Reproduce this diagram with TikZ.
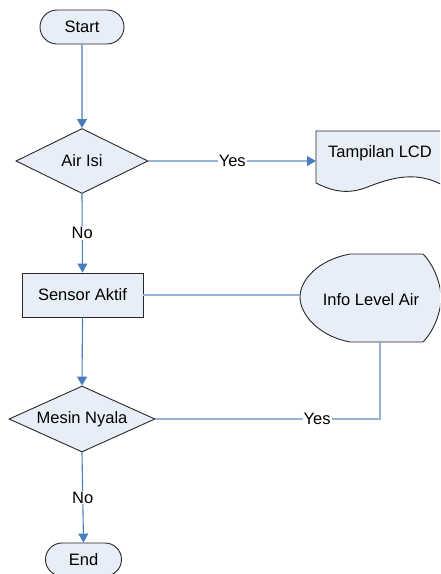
\documentclass[tikz,border=0pt]{standalone}
\usepackage{fontspec}
\setmainfont{Liberation Sans}
\usetikzlibrary{shapes.geometric,shapes.misc,arrows.meta}
\definecolor{shapefill}{RGB}{232,238,247}
\definecolor{linkblue}{RGB}{74,126,187}
\definecolor{lightlink}{RGB}{149,179,215}
\definecolor{edgegray}{RGB}{40,40,40}
\tikzset{
  every node/.style={font=\fontsize{16.5}{19}\selectfont},
  boxbase/.style={draw=edgegray, fill=shapefill, line width=0.9pt, inner sep=0pt},
  termbox/.style={boxbase, rounded rectangle},
  procbox/.style={boxbase, rectangle},
  decbox/.style={boxbase, diamond, shape aspect=2.2},
  flow/.style={draw=linkblue, line width=1.1pt, -{Triangle[length=9pt,width=10pt]}},
  flowplain/.style={draw=lightlink, line width=1.1pt},
  flowarrow/.style={draw=lightlink, line width=1.1pt, -{Triangle[length=9pt,width=10pt,color=linkblue]}},
  lbl/.style={fill=white, inner sep=1pt}
}
\begin{document}
\begin{tikzpicture}[x=1pt,y=-1pt]
\useasboundingbox (0,0) rectangle (440,574);
\clip (0,0) rectangle (440,574);
% nodes
\node[termbox, minimum width=84pt, minimum height=34pt] (start) at (82,27) {Start};
\node[decbox, minimum width=132pt, minimum height=65pt] (air) at (82,161) {Air Isi};
\node[procbox, minimum width=121pt, minimum height=44pt] (sensor) at (82.5,295) {Sensor Aktif};
\node[decbox, minimum width=146pt, minimum height=66pt] (mesin) at (82,419) {Mesin Nyala};
\node[termbox, minimum width=76pt, minimum height=33pt] (end) at (83.5,559.5) {End};
% document shape (Tampilan LCD)
\draw[boxbase] (316,131) -- (450,131) -- (450,190)
  .. controls (420,168) and (390,178) .. (365,188)
  .. controls (345,195) and (330,190) .. (316,183) -- cycle;
\node (lcd) at (380,153) {Tampilan LCD};
\coordinate (lcd-w) at (316,161);
% display shape (Info Level Air)
\draw[boxbase] (350,254) -- (423,254)
  .. controls (434,265) and (441,284) .. (441,298)
  .. controls (441,312) and (434,331) .. (423,342)
  -- (350,342)
  .. controls (318,336) and (300,314) .. (300,297)
  .. controls (300,280) and (318,260) .. (350,254) -- cycle;
\node (info) at (371,300) {Info Level Air};
\coordinate (info-w) at (300,295);
\coordinate (info-s) at (380,342);
% connectors
\draw[flow] (start) -- (air);
\draw[flowarrow] (air.east) -- node[lbl] {Yes} (lcd-w);
\draw[flow] (air.south) -- node[lbl] {No} (sensor.north);
\draw[flowplain] (sensor.east) -- (info-w);
\draw[flow] (sensor.south) -- (mesin.north);
\draw[flowplain] (info-s) |- node[lbl, pos=0.64] {Yes} (mesin.east);
\draw[flow] (mesin.south) -- node[lbl] {No} (end.north);
\end{tikzpicture}
\end{document}
